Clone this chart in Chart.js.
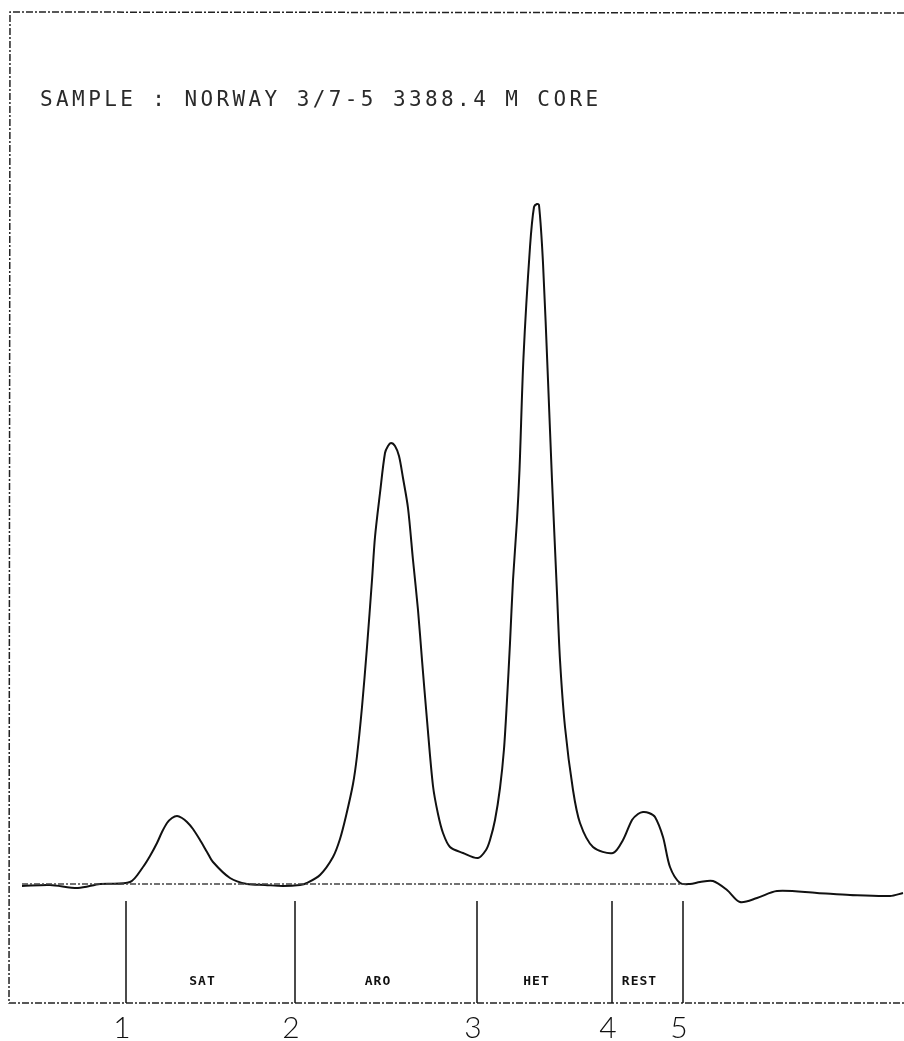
<!DOCTYPE html>
<html>
<head>
<meta charset="utf-8">
<script src="https://cdn.jsdelivr.net/npm/chart.js@4/dist/chart.umd.min.js"></script>
<style>
	html, body { margin: 0; padding: 0; background: #fff; }
	#wrap { width: 904px; height: 1041px; position: relative; }
</style>
</head>
<body>
<div id="wrap"><canvas id="chromatogram"></canvas></div>
<script>
// retention position (chart paper units) and detector response above baseline
const retention = [22, 50, 78, 100, 130, 143, 150, 157, 162, 167, 172, 177, 182, 187, 193, 200, 207, 213, 230, 247, 265, 283, 300, 307, 320, 333, 340, 346, 353, 357, 362, 367, 372, 375, 380, 385, 388, 391, 395, 399, 403, 408, 413, 418, 422, 427, 433, 438, 443, 450, 463, 478, 486, 490, 495, 500, 504, 507, 510, 513, 517, 519.5, 523.5, 530, 534, 537, 539, 543, 548, 552, 557, 560, 565, 573, 580, 593, 613, 623, 632, 638, 643, 649, 655, 663, 670, 680, 690, 700, 713, 727, 740, 757, 777, 817, 850, 890, 903];
const response = [-2, -1, -4, 0, 2, 17, 28, 41, 52, 61, 66, 68, 66, 62, 55, 44, 32, 22, 6, 0, -1, -2, -1, 1, 9, 27, 45, 68, 100, 128, 177, 237, 304, 347, 391, 431, 438, 441, 438, 428, 406, 376, 324, 274, 224, 164, 98, 70, 51, 37, 31, 26, 34, 44, 64, 96, 135, 184, 241, 304, 364, 414, 527, 637, 677, 680, 679, 621, 504, 404, 291, 224, 157, 94, 61, 37, 31, 44, 64, 70, 72, 71, 67, 47, 17, 1, 0, 2, 3, -6, -18, -14, -7, -9, -11, -12, -9];

const cuts = [126, 295, 477, 612, 683];
const cutNumbers = ["1", "2", "3", "4", "5"];
const fractions = ["SAT", "ARO", "HET", "REST"];
const baselineRange = [22, 686];
const cutRange = [-17, -119];
const sampleTitle = "SAMPLE : NORWAY 3/7-5 3388.4 M CORE";

let chromChart;

const decorPlugin = {
	id: 'decor',
	beforeDatasetsDraw(chart){
		const ctx = chart.ctx;
		ctx.save();
		// paper frame
		ctx.strokeStyle = '#222';
		ctx.lineWidth = 1.5;
		ctx.setLineDash([7, 2, 2, 2]);
		ctx.beginPath();
		ctx.moveTo(904, 13);
		ctx.lineTo(10, 12);
		ctx.lineTo(9, 1003);
		ctx.lineTo(904, 1003);
		ctx.stroke();
		ctx.restore();
	},
	afterDraw(chart){
		const ctx = chart.ctx;
		const xs = chart.scales.x;
		const ys = chart.scales.y;
		ctx.save();
		ctx.fillStyle = '#2a2a2a';
		ctx.textBaseline = 'alphabetic';
		ctx.font = '21px "DejaVu Sans Mono"';
		ctx.letterSpacing = '3.4px';
		ctx.textAlign = 'left';
		ctx.fillText(sampleTitle, 40, 106);

		ctx.fillStyle = '#111';
		ctx.font = 'bold 13px "DejaVu Sans Mono"';
		ctx.letterSpacing = '1px';
		ctx.textAlign = 'center';
		fractions.forEach((name, i) => {
			let mid = (xs.getPixelForValue(cuts[i]) + xs.getPixelForValue(cuts[i+1])) / 2 - 8;
			ctx.fillText(name, mid, ys.getPixelForValue(-101));
		});

		ctx.fillStyle = '#111';
		ctx.font = '300 30px Lato';
		ctx.letterSpacing = '0px';
		cutNumbers.forEach((num, i) => {
			ctx.fillText(num, xs.getPixelForValue(cuts[i]) - 4, ys.getPixelForValue(-154));
		});
		ctx.restore();
	}
};

function drawChromatogram(){
	if(chromChart)
		chromChart.destroy();
	const ctx = document.getElementById("chromatogram").getContext("2d");

	const datasets = [
		{
			label: 'baseline',
			data: baselineRange.map(x => ({x: x, y: 0})),
			borderColor: '#444',
			borderWidth: 1.5,
			borderDash: [6, 2, 2, 2],
			pointRadius: 0,
		},
		{
			label: 'signal',
			data: retention.map((x, i) => ({x: x, y: response[i]})),
			borderColor: '#111',
			borderWidth: 2,
			pointRadius: 0,
			tension: 0.3,
		},
	];
	cuts.forEach(c => {
		datasets.push({
			label: 'cut',
			data: cutRange.map(y => ({x: c, y: y})),
			borderColor: '#111',
			borderWidth: 1.5,
			pointRadius: 0,
		});
	});

	let config = {
		type: 'line',
		data: { datasets },
		options: {
			responsive: true,
			maintainAspectRatio: false,
			animation: false,
			devicePixelRatio: 1,
			layout: { padding: 0 },
			plugins: {
				legend: { display: false },
				tooltip: { enabled: false },
			},
			scales: {
				x: { type: 'linear', min: 0, max: 904, display: false },
				y: { type: 'linear', min: -157, max: 884, display: false },
			},
		},
		plugins: [decorPlugin],
	};
	chromChart = new Chart(ctx, config);
}

drawChromatogram();
</script>
</body>
</html>
